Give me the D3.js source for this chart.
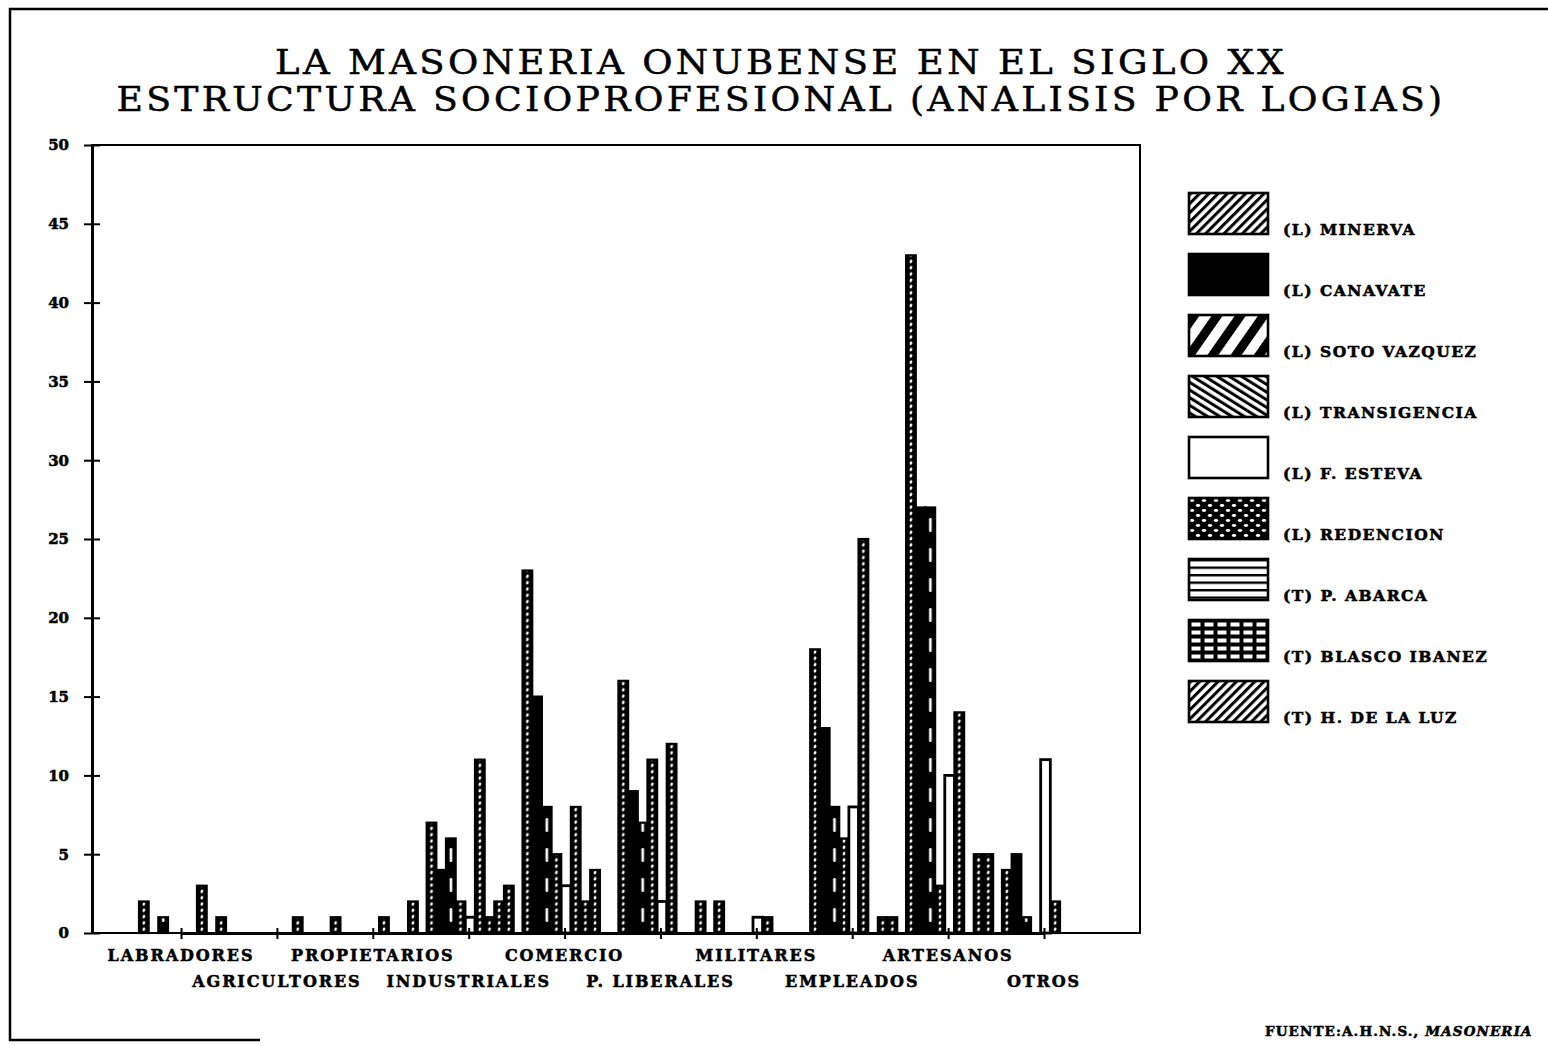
<!DOCTYPE html>
<html>
<head>
<meta charset="utf-8">
<script src="https://cdn.jsdelivr.net/npm/d3@7"></script>
<style>
  body { margin: 0; background: #fff; }
  svg { display: block; }
  text { font-family: "DejaVu Serif", "Liberation Serif", serif; fill: #000; }
  .heavy { stroke: #000; stroke-width: 0.55px; }
</style>
</head>
<body>
<svg id="chart" width="1548" height="1046"></svg>
<script>
// Categories (x axis) and the lodges (series)
const categories = ["LABRADORES", "AGRICULTORES", "PROPIETARIOS", "INDUSTRIALES", "COMERCIO",
                    "P. LIBERALES", "MILITARES", "EMPLEADOS", "ARTESANOS", "OTROS"];
const seriesNames = ["(L) MINERVA", "(L) CANAVATE", "(L) SOTO VAZQUEZ", "(L) TRANSIGENCIA",
                     "(L) F. ESTEVA", "(L) REDENCION", "(T) P. ABARCA", "(T) BLASCO IBANEZ",
                     "(T) H. DE LA LUZ"];

// Members per category, one array per lodge
const minerva      = [2, 0, 1, 7, 23, 16, 2, 18, 43, 4];
const canavate     = [0, 0, 0, 4, 15, 9, 0, 13, 27, 5];
const sotoVazquez  = [1, 0, 0, 6, 8, 7, 0, 8, 27, 1];
const transigencia = [0, 0, 0, 2, 5, 11, 0, 6, 3, 0];
const fEsteva      = [0, 0, 0, 1, 3, 2, 1, 8, 10, 11];
const redencion    = [0, 0, 1, 11, 8, 12, 1, 25, 14, 2];
const pAbarca      = [3, 1, 0, 1, 2, 0, 0, 0, 0, 0];
const blascoIbanez = [0, 0, 0, 2, 4, 0, 0, 1, 5, 0];
const hDeLaLuz     = [1, 0, 2, 3, 0, 2, 0, 1, 5, 0];

const seriesValues = [minerva, canavate, sotoVazquez, transigencia, fEsteva,
                      redencion, pAbarca, blascoIbanez, hDeLaLuz];

const yTicks = [0, 5, 10, 15, 20, 25, 30, 35, 40, 45, 50];

const titleLines = ["LA MASONERIA ONUBENSE EN EL SIGLO XX",
                    "ESTRUCTURA SOCIOPROFESIONAL (ANALISIS POR LOGIAS)"];

// Layout
const plot = { left: 92, right: 1140, top: 145, bottom: 933 };

const svg = d3.select("#chart");

// Scales
const x = d3.scalePoint().domain(categories).range([181, 1044]);
const xInner = d3.scaleBand().domain(d3.range(seriesNames.length)).range([-42, 45]).padding(0);
const y = d3.scaleLinear().domain([0, 50]).range([plot.bottom, plot.top]);
const bw = xInner.bandwidth();

const defs = svg.append("defs");

// ---- Bar fills: how the patterns look at bar width (black with white dots) ----
const dotP = defs.append("pattern").attr("id", "bar-dots")
    .attr("patternUnits", "userSpaceOnUse")
    .attr("width", bw).attr("height", 6.3);
dotP.append("rect").attr("width", bw).attr("height", 6.3).attr("fill", "#000");
dotP.append("ellipse").attr("cx", bw / 2).attr("cy", 3.15).attr("rx", 1.3).attr("ry", 1.8)
    .attr("transform", `rotate(20 ${bw / 2} 3.15)`).attr("fill", "#fff");

const dash = defs.append("pattern").attr("id", "bar-dash")
    .attr("patternUnits", "userSpaceOnUse")
    .attr("width", bw).attr("height", 30);
dash.append("rect").attr("width", bw).attr("height", 30).attr("fill", "#000");
dash.append("rect").attr("x", bw / 2 - 1.2).attr("y", 8).attr("width", 2.6).attr("height", 14)
    .attr("rx", 1.2).attr("fill", "#fff");

const barFill = ["url(#bar-dots)", "#000", "url(#bar-dash)", "url(#bar-dots)", "#fff",
                 "url(#bar-dots)", "url(#bar-dots)", "url(#bar-dots)", "url(#bar-dots)"];

// ---- Legend fills ----
function hatch(id, period, width, angle) {
    const p = defs.append("pattern").attr("id", id)
        .attr("patternUnits", "userSpaceOnUse")
        .attr("width", period).attr("height", period)
        .attr("patternTransform", `rotate(${angle})`);
    p.append("rect").attr("width", period).attr("height", period).attr("fill", "#fff");
    p.append("rect").attr("x", 0).attr("width", width).attr("height", period).attr("fill", "#000");
}
hatch("lg-fine", 6.5, 3, 45);
hatch("lg-thick", 19, 9, 35);
hatch("lg-back", 6.5, 3, -58);

const dots = defs.append("pattern").attr("id", "lg-dots")
    .attr("patternUnits", "userSpaceOnUse").attr("width", 12).attr("height", 10);
dots.append("rect").attr("width", 12).attr("height", 10).attr("fill", "#000");
dots.append("ellipse").attr("cx", 3).attr("cy", 2.5).attr("rx", 2.2).attr("ry", 1.4).attr("fill", "#fff");
dots.append("ellipse").attr("cx", 9).attr("cy", 7.5).attr("rx", 2.2).attr("ry", 1.4).attr("fill", "#fff");

const lines = defs.append("pattern").attr("id", "lg-lines")
    .attr("patternUnits", "userSpaceOnUse").attr("width", 10).attr("height", 7.5);
lines.append("rect").attr("width", 10).attr("height", 7.5).attr("fill", "#fff");
lines.append("rect").attr("y", 0).attr("width", 10).attr("height", 2.4).attr("fill", "#000");

const grid = defs.append("pattern").attr("id", "lg-grid")
    .attr("patternUnits", "userSpaceOnUse").attr("width", 13).attr("height", 8);
grid.append("rect").attr("width", 13).attr("height", 8).attr("fill", "#000");
grid.append("rect").attr("x", 2.5).attr("y", 2.5).attr("width", 9).attr("height", 4).attr("fill", "#fff");

const legendFill = ["url(#lg-fine)", "#000", "url(#lg-thick)", "url(#lg-back)", "#fff",
                    "url(#lg-dots)", "url(#lg-lines)", "url(#lg-grid)", "url(#lg-fine)"];

// ---- Page border ----
svg.append("path")
    .attr("d", "M1548,9 L10,9 L10,1040 L260,1040")
    .attr("fill", "none").attr("stroke", "#000").attr("stroke-width", 2.5);

// ---- Title ----
svg.selectAll("text.title")
    .data(titleLines)
    .enter().append("text")
    .attr("class", "title")
    .attr("x", 781)
    .attr("y", (d, i) => 74 + i * 37)
    .attr("text-anchor", "middle")
    .attr("font-size", 33)
    .attr("letter-spacing", 3)
    .attr("stroke", "#000")
    .attr("stroke-width", 0.5)
    .attr("textLength", (d, i) => i === 0 ? 1012 : 1329)
    .attr("lengthAdjust", "spacingAndGlyphs")
    .text(d => d);

// ---- Bars ----
const bars = [];
seriesValues.forEach((vals, s) => {
    vals.forEach((v, c) => {
        if (v > 0) bars.push({ s: s, c: categories[c], v: v });
    });
});

svg.append("g")
    .selectAll("g")
    .data(bars)
    .enter().append("g")
    .attr("transform", d => `translate(${x(d.c) + xInner(d.s)},0)`)
    .append("rect")
    .attr("x", 0)
    .attr("y", d => y(d.v))
    .attr("width", bw)
    .attr("height", d => y(0) - y(d.v))
    .attr("fill", d => barFill[d.s])
    .attr("stroke", "#000")
    .attr("stroke-width", d => d.s === 4 ? 2.8 : 2.2);

// ---- Frame and axes ----
svg.append("rect")
    .attr("x", plot.left).attr("y", plot.top)
    .attr("width", plot.right - plot.left).attr("height", plot.bottom - plot.top)
    .attr("fill", "none").attr("stroke", "#000").attr("stroke-width", 2);

const yAxis = svg.append("g")
    .attr("transform", `translate(${plot.left},0)`)
    .call(d3.axisLeft(y).tickValues(yTicks).tickSize(8).tickSizeOuter(0).tickPadding(15));
yAxis.select(".domain").attr("stroke-width", 3);
yAxis.selectAll(".tick line").attr("x1", 8).attr("stroke-width", 2);
yAxis.selectAll(".tick text")
    .attr("class", "heavy")
    .attr("font-family", "'DejaVu Serif', serif")
    .attr("font-weight", "bold")
    .attr("font-size", 15);

const xAxis = svg.append("g")
    .attr("transform", `translate(0,${plot.bottom})`)
    .call(d3.axisBottom(x).tickSize(6).tickSizeOuter(0).tickFormat(""));
xAxis.select(".domain").attr("stroke-width", 3);
xAxis.selectAll(".tick line").attr("y1", -5).attr("stroke-width", 2);

svg.append("g")
    .selectAll("text")
    .data(categories)
    .enter().append("text")
    .attr("class", "heavy")
    .attr("x", d => x(d))
    .attr("y", (d, i) => 961 + (i % 2) * 26)
    .attr("text-anchor", "middle")
    .attr("font-size", 16)
    .attr("font-weight", "bold")
    .attr("letter-spacing", 1.9)
    .text(d => d);

// ---- Legend ----
const legend = svg.append("g")
    .selectAll("g")
    .data(seriesNames)
    .enter().append("g")
    .attr("transform", (d, i) => `translate(1189,${193 + i * 61})`);

legend.append("rect")
    .attr("width", 79).attr("height", 41)
    .attr("fill", (d, i) => legendFill[i])
    .attr("stroke", "#000").attr("stroke-width", 2.6);

legend.append("text")
    .attr("class", "heavy")
    .attr("x", 94).attr("y", 42)
    .attr("font-size", 15.5)
    .attr("font-weight", "bold")
    .attr("letter-spacing", 1.5)
    .text(d => d);

// ---- Source ----
const src = svg.append("text")
    .attr("class", "heavy")
    .attr("x", 1265).attr("y", 1036)
    .attr("font-size", 13.5)
    .attr("font-weight", "bold")
    .attr("letter-spacing", 1.1);
src.append("tspan").text("FUENTE:A.H.N.S.,  ");
src.append("tspan").attr("font-style", "italic").text("MASONERIA");
</script>
</body>
</html>
